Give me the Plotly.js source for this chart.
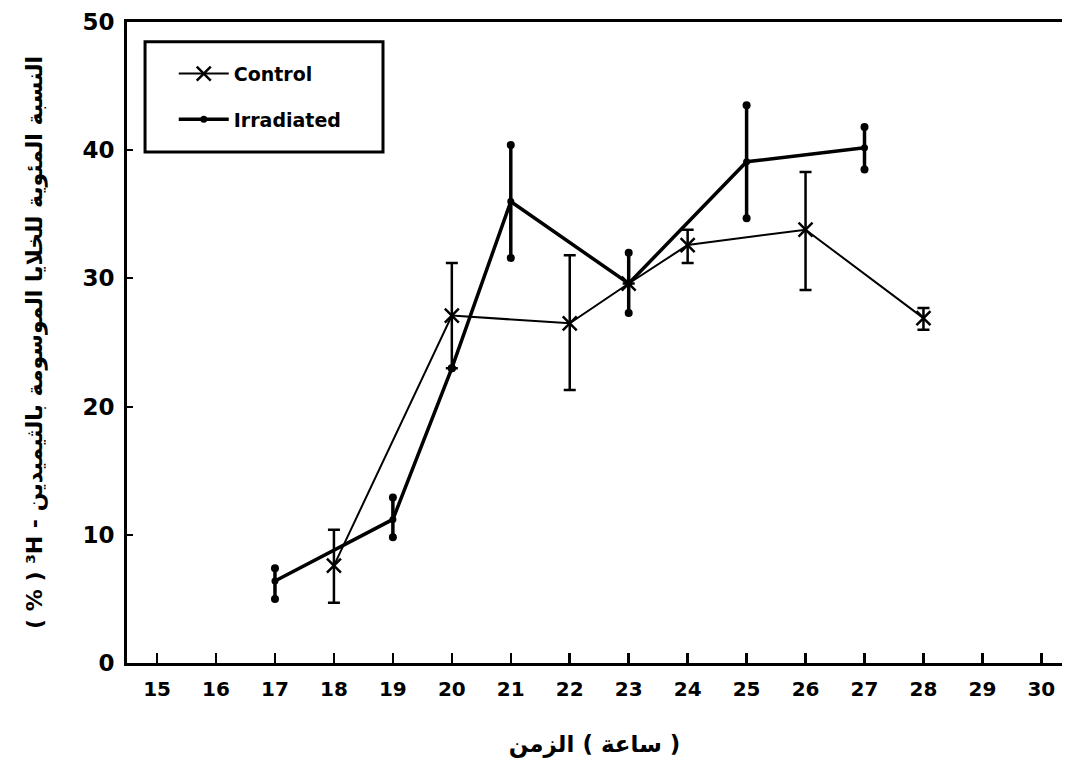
<!DOCTYPE html>
<html>
<head>
<meta charset="utf-8">
<script src="https://cdn.plot.ly/plotly-3.0.1.min.js"></script>
<style>html,body{margin:0;padding:0;background:#fff;}#chart{width:1066px;height:768px;}</style>
</head>
<body>
<div id="chart"></div>
<script>
// ---- data ----
const xTicks = [15,16,17,18,19,20,21,22,23,24,25,26,27,28,29,30];
const yTicks = [0,10,20,30,40,50];

const controlHours = [18,20,22,23,24,26,28];
const controlPct   = [7.6,27.1,26.5,29.6,32.6,33.8,26.9];
const controlUpper = [10.4,31.2,31.8,29.6,33.8,38.3,27.7];
const controlLower = [4.7,23.0,21.3,29.6,31.2,29.1,26.0];

const irrHours = [17,19,20,21,23,25,27];
const irrPct   = [6.4,11.2,23.0,36.0,29.6,39.1,40.2];
const irrUpper = [7.4,12.9,23.0,40.4,32.0,43.5,41.8];
const irrLower = [5.0,9.8,23.0,31.6,27.3,34.7,38.5];

const labelControl = 'Control';
const labelIrr = 'Irradiated';
const xTitle = '\u200Eالزمن \u200E(\u200E ساعة \u200E)\u200E';
const yTitle = '\u200E(\u200E % \u200E)\u200E \u00B3H - النسبة المئوية للخلايا الموسومة بالثيميدين';

const plus = (u, v) => u.map((a, i) => a - v[i]);
const minus = (l, v) => l.map((a, i) => v[i] - a);

const fontFam = 'DejaVu Sans, Liberation Sans, sans-serif';

const traces = [
  {
    x: controlHours, y: controlPct, name: labelControl, legendgroup: 'c',
    type: 'scatter', mode: 'lines+markers',
    line: {color: '#000', width: 2},
    marker: {symbol: 'x-thin', size: 14, color: '#000', line: {color: '#000', width: 2.5}},
    error_y: {type: 'data', symmetric: false, array: plus(controlUpper, controlPct),
              arrayminus: minus(controlLower, controlPct), color: '#000', thickness: 2.5, width: 6}
  },
  {
    x: irrHours, y: irrPct, name: labelIrr, legendgroup: 'i',
    type: 'scatter', mode: 'lines+markers',
    line: {color: '#000', width: 3.5},
    marker: {symbol: 'circle', size: 7, color: '#000'},
    error_y: {type: 'data', symmetric: false, array: plus(irrUpper, irrPct),
              arrayminus: minus(irrLower, irrPct), color: '#000', thickness: 3.5, width: 0}
  },
  {
    x: irrHours.concat(irrHours), y: irrUpper.concat(irrLower),
    type: 'scatter', mode: 'markers', showlegend: false, hoverinfo: 'skip',
    marker: {symbol: 'circle', size: 8, color: '#000'}
  }
];

const layout = {
  width: 1066, height: 768,
  margin: {l: 127, r: 4, t: 22, b: 105},
  paper_bgcolor: '#fff', plot_bgcolor: '#fff',
  font: {family: fontFam, color: '#000', size: 18, weight: 'bold'},
  showlegend: true,
  legend: {
    x: 0.05, y: 0.949, xanchor: 'left', yanchor: 'top',
    bgcolor: 'rgba(0,0,0,0)', borderwidth: 0,
    font: {family: fontFam, size: 19, weight: 'bold', color: '#000'},
    itemwidth: 50, tracegroupgap: 18, traceorder: 'grouped'
  },
  shapes: [
    {type: 'rect', xref: 'paper', yref: 'paper', x0: 0.0193, x1: 0.2738, y0: 0.797, y1: 0.969,
     line: {color: '#000', width: 3}, fillcolor: 'rgba(0,0,0,0)'}
  ],
  xaxis: {
    range: [14.49, 30.35], tickmode: 'array', tickvals: xTicks, ticktext: xTicks.map(String),
    ticks: 'inside', ticklen: 10, tickwidth: 2.5, tickcolor: '#000', ticklabelstandoff: 6,
    showline: true, linecolor: '#000', linewidth: 3, mirror: true,
    showgrid: false, zeroline: false,
    tickfont: {family: fontFam, size: 20, weight: 'bold'},
    title: {text: xTitle, standoff: 36, font: {family: 'DejaVu Sans, sans-serif', size: 23, weight: 'bold'}}
  },
  yaxis: {
    range: [0, 50], tickmode: 'array', tickvals: yTicks, ticktext: yTicks.map(String),
    ticks: 'inside', ticklen: 6, tickwidth: 2, tickcolor: '#000', ticklabelstandoff: 5,
    showline: true, linecolor: '#000', linewidth: 3,
    showgrid: false, zeroline: false,
    tickfont: {family: fontFam, size: 23, weight: 'bold'},
    title: {text: yTitle, standoff: 34, font: {family: 'DejaVu Sans, sans-serif', size: 22, weight: 'bold'}}
  }
};

Plotly.newPlot('chart', traces, layout, {displayModeBar: false, staticPlot: true});
</script>
</body>
</html>
